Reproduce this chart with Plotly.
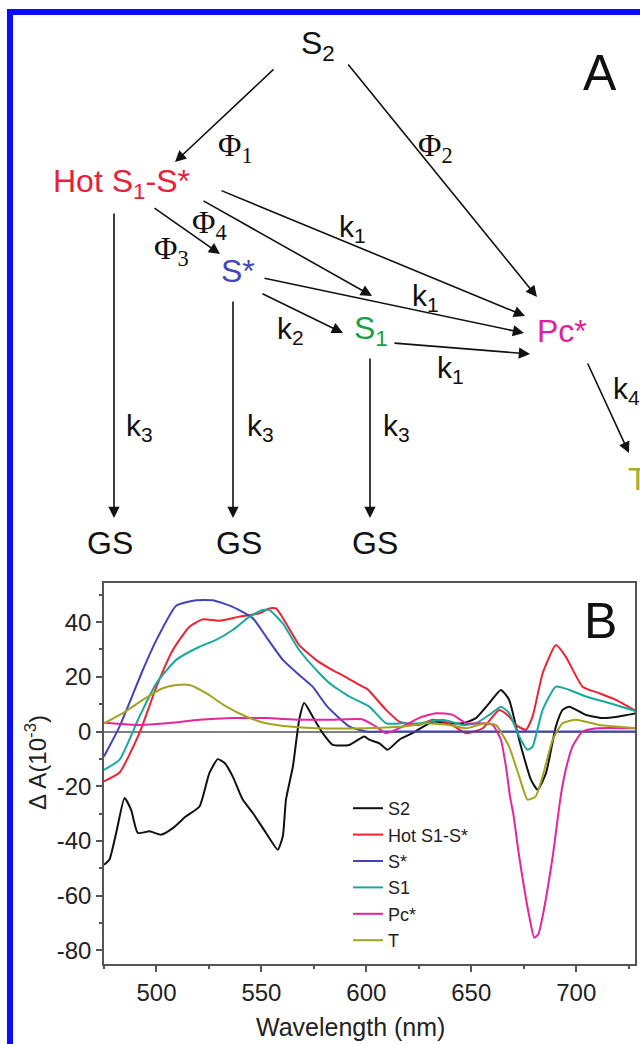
import plotly.graph_objects as go

# ---------------- data (panel B) ----------------
series_names = ["S2", "Hot S1-S*", "S*", "S1", "Pc*", "T"]

s2_nm = [475, 477.6, 480.8, 484.8, 487.9, 491.1, 496.7, 502.2, 507.8, 514.1, 520.5, 525.2, 529.2, 532.5,
         536.3, 541.1, 545.9, 552.2, 557.8, 560.2, 561.7, 565, 568, 570.4, 574.4, 579.2, 584, 591.9, 599,
         601.4, 606.2, 610.1, 615.7, 622, 631.6, 639.5, 645.9, 652.2, 658.6, 664.1, 668, 672.8, 678.4,
         681.6, 685.6, 690.3, 693.5, 696.7, 704.6, 712.5, 720.4, 729]
s2_val = [-48.7, -46.8, -37.1, -24.3, -28.6, -37.1, -36.5, -37.7, -35.3, -31, -27.4, -15.2, -10.1, -11.5,
          -16.4, -24.9, -29.8, -37.1, -43.2, -38.3, -24.9, -12.8, 4.3, 10.4, 5.5, -0.6, -4.9, -4.9, -1.8,
          -3, -4.3, -6.7, -3, -0.6, 3.6, 3, 3, 4.9, 10.4, 15.2, 11.6, -3, -17.6,
          -21.3, -15.2, 1.8, 7.9, 9.1, 6.1, 4.9, 5.5, 6.7]

hot_nm = [475, 482.4, 491.9, 500, 507.8, 515.7, 522, 530, 539.5, 549, 553.8, 557, 561.7, 568, 576, 582.4,
          590, 598.2, 600.5, 609.4, 615.7, 625, 631.6, 639.5, 647.5, 655.4, 663.3, 668, 671.3, 676, 679.2,
          684, 690.3, 695, 703, 711, 718.9, 729]
hot_val = [-18.2, -15, -0.5, 16.4, 29.8, 38.3, 41, 40.5, 42, 43.2, 45, 45, 39.6, 31.6, 26.2, 23.1,
           20, 16.4, 15.5, 7.9, 3.6, 2.4, 4.3, 3, -0.6, 1.2, 7.9, 5.5, 2.4, 0.6, 5.5,
           21.3, 31.6, 27.4, 16.4, 14, 11.6, 7.3]

sstar_nm = [475, 482.4, 493.5, 500, 509.4, 518.9, 526.8, 536.3, 545.9, 552.2, 560.2, 568, 574.4, 581.4,
            592, 600, 610, 640, 680, 729]
sstar_val = [-9.1, 1.8, 22.5, 33.5, 46, 48, 48, 45.6, 41.4, 34.7, 26.2, 20.7, 16.4, 9.1,
             1.8, 0, 0, 0, 0, 0]

s1_nm = [475, 482.4, 491.9, 500, 509.4, 520.5, 528.4, 536.3, 544.3, 550.6, 553.8, 560.1, 568, 577.6,
         582.4, 591.9, 601.4, 609.4, 617.3, 625, 636.3, 645.9, 652.2, 658.6, 664.1, 668, 672.8, 676.8,
         679.2, 684, 690.3, 696.7, 704.6, 715.7, 729]
s1_val = [-14, -10.3, 5.5, 17.7, 26.2, 31, 33.5, 37.1, 42, 44.4, 44.4, 39.6, 29.8, 21.3,
          17.7, 12.8, 9.1, 3, 3, 3, 4.3, 2.4, 3, 6.1, 9.1, 6.7, -1.8, -6.7,
          -5.5, 7.9, 16.4, 15.2, 12.8, 10.4, 7.3]

pc_nm = [475, 491.9, 504.6, 520.5, 536.3, 552.2, 568, 582.4, 598, 604.6, 609.4, 617.3, 625, 633.2, 641.1,
         647.5, 655.4, 660.2, 664.1, 666.5, 668.5, 670, 672.8, 677.6, 680, 682, 684, 688.8, 692.6, 695,
         698.2, 703, 710, 729]
pc_val = [3.2, 2.4, 3, 4.3, 4.9, 4.9, 4.3, 4.3, 4.5, 1.8, -0.6, 1.8, 4.9, 6.7, 6.1,
          3, 3, 2.4, -3, -12.8, -24, -30, -45.6, -67.5, -75.4, -74, -67.5, -45.6, -23.7, -14,
          -5.5, 0, 1.2, 1.2]

t_nm = [475, 484, 493.5, 503, 509.4, 515.7, 523.7, 533.3, 542.7, 552.2, 563.3, 576, 600, 620, 628, 639.5,
        647.5, 656.9, 661.7, 668, 672.8, 676.8, 680.7, 684, 688.8, 693.5, 699.9, 711, 729]
t_val = [3, 6.7, 11.6, 15.8, 17, 17, 14, 9.1, 5.5, 3, 1.8, 1.2, 1.2, 2, 3, 2.4,
         1.2, 3, 2.4, -5.5, -16.4, -24.9, -23.7, -16.4, -3, 3, 4.3, 2.4, 1.2]

x_tick_vals = [500, 550, 600, 650, 700]
x_tick_text = ["500", "550", "600", "650", "700"]
y_tick_vals = [-80, -60, -40, -20, 0, 20, 40]
y_tick_text = ["-80", "-60", "-40", "-20", "0", "20", "40"]

colors = ["#111111", "#ee2233", "#4343b8", "#17aa9c", "#e6249c", "#a3a31f"]

# ---------------- figure geometry helpers ----------------
W, H = 640, 1044


def px(x):
    return x / W


def py(y):
    return 1 - y / H


fig = go.Figure()
all_x = [s2_nm, hot_nm, sstar_nm, s1_nm, pc_nm, t_nm]
all_y = [s2_val, hot_val, sstar_val, s1_val, pc_val, t_val]
for name, xs, ys, c in zip(series_names, all_x, all_y, colors):
    fig.add_trace(go.Scatter(x=xs, y=ys, mode="lines", name=name,
                             line=dict(color=c, width=2, shape="spline", smoothing=0.5)))

SANS = "Liberation Sans, Arial, Helvetica, sans-serif"
SERIF = "Liberation Serif, Times New Roman, serif"

annotations = []

# ---------------- panel A: kinetic scheme ----------------
labels = [
    ("S<sub>2</sub>", 318, 45, "#111111", SANS, 32, "center"),
    ("Hot S<sub>1</sub>-S*", 121, 183, "#e8203a", SANS, 32, "center"),
    ("S*", 238, 271, "#4545bb", SANS, 32, "center"),
    ("S<sub>1</sub>", 371, 330, "#1aa04a", SANS, 32, "center"),
    ("Pc*", 562, 331, "#e0209a", SANS, 32, "center"),
    ("T", 626, 479, "#a0b030", SANS, 32, "left"),
    ("GS", 110, 543, "#111111", SANS, 32, "center"),
    ("GS", 239, 543, "#111111", SANS, 32, "center"),
    ("GS", 375, 543, "#111111", SANS, 32, "center"),
    ("Φ<sub>1</sub>", 235, 148, "#111111", SERIF, 32, "center"),
    ("Φ<sub>2</sub>", 435, 148, "#111111", SERIF, 32, "center"),
    ("Φ<sub>4</sub>", 209, 224, "#111111", SERIF, 32, "center"),
    ("Φ<sub>3</sub>", 171, 250, "#111111", SERIF, 32, "center"),
    ("k<sub>1</sub>", 352, 229, "#111111", SANS, 30, "center"),
    ("k<sub>1</sub>", 425, 297, "#111111", SANS, 30, "center"),
    ("k<sub>1</sub>", 450, 369, "#111111", SANS, 30, "center"),
    ("k<sub>2</sub>", 290, 330, "#111111", SANS, 30, "center"),
    ("k<sub>3</sub>", 139, 427, "#111111", SANS, 30, "center"),
    ("k<sub>3</sub>", 260, 427, "#111111", SANS, 30, "center"),
    ("k<sub>3</sub>", 396, 427, "#111111", SANS, 30, "center"),
    ("k<sub>4</sub>", 611, 391, "#111111", SANS, 30, "left"),
    ("A", 600, 73, "#111111", SANS, 50, "center"),
    ("B", 600, 621, "#111111", SANS, 50, "center"),
]
for text, x, y, col, fam, size, anchor in labels:
    annotations.append(dict(text=text, x=px(x), y=py(y), xref="paper", yref="paper",
                            xanchor=anchor, yanchor="middle", showarrow=False,
                            font=dict(family=fam, size=size, color=col)))

arrows = [
    ((275, 68), (175, 162)),
    ((347, 63), (537, 297)),
    ((153, 207), (220, 254)),
    ((202, 200), (372, 296)),
    ((220, 190), (525, 316)),
    ((263, 278), (524, 333)),
    ((261, 293), (343, 333)),
    ((393, 343), (530, 354)),
    ((587, 362), (629, 453)),
    ((114, 212), (114, 518)),
    ((233, 300), (233, 518)),
    ((370, 357), (370, 518)),
]
for (tx, ty), (hx, hy) in arrows:
    annotations.append(dict(text="", x=px(hx), y=py(hy), xref="paper", yref="paper",
                            ax=tx - hx, ay=ty - hy, axref="pixel", ayref="pixel",
                            showarrow=True, arrowhead=2, arrowsize=1.4, arrowwidth=1.6,
                            arrowcolor="#111111", standoff=0, startstandoff=0))

# axis titles of panel B
annotations.append(dict(text="Wavelength (nm)", x=px(350), y=py(1027), xref="paper", yref="paper",
                        showarrow=False, xanchor="center", yanchor="middle",
                        font=dict(family=SANS, size=25, color="#222222")))
annotations.append(dict(text="Δ A(10<sup>-3</sup>)", x=px(36), y=py(763), xref="paper", yref="paper",
                        showarrow=False, xanchor="center", yanchor="middle", textangle=-90,
                        font=dict(family=SANS, size=24, color="#222222")))

axis_common = dict(showline=True, mirror=True, linecolor="#555555", linewidth=1.5,
                   showgrid=False, ticks="outside", ticklen=6, tickwidth=1.5, tickcolor="#555555",
                   tickfont=dict(family=SANS, size=24, color="#222222"), automargin=False)

fig.update_layout(
    width=W, height=H,
    margin=dict(l=0, r=0, t=0, b=0),
    paper_bgcolor="white", plot_bgcolor="white",
    showlegend=True,
    legend=dict(x=px(348), y=py(790), xanchor="left", yanchor="top",
                bgcolor="rgba(0,0,0,0)", font=dict(family=SANS, size=18, color="#222222"),
                tracegroupgap=0, itemwidth=30),
    xaxis=dict(domain=[px(104), px(635)], range=[475, 728], tickvals=x_tick_vals,
               ticktext=x_tick_text, zeroline=False,
               minor=dict(tick0=475, dtick=25, ticks="outside", ticklen=3, tickcolor="#555555"),
               **axis_common),
    yaxis=dict(domain=[py(964), py(583)], range=[-85, 54.3], tickvals=y_tick_vals,
               ticktext=y_tick_text,
               zeroline=True, zerolinecolor="#808080", zerolinewidth=1.5,
               minor=dict(tick0=0, dtick=10, ticks="outside", ticklen=3, tickcolor="#555555"),
               **axis_common),
    annotations=annotations,
    shapes=[dict(type="rect", xref="paper", yref="paper",
                 x0=px(10), y0=py(12), x1=px(700), y1=py(1100),
                 line=dict(color="#0a0aff", width=6), fillcolor="rgba(0,0,0,0)", layer="above")],
)

# remove the default 8 px page margin so the figure sits at the window's top-left corner
fig.write_html("out.html", config={"displayModeBar": False},
               post_script="document.body.style.margin='0';document.body.style.overflow='hidden';")
